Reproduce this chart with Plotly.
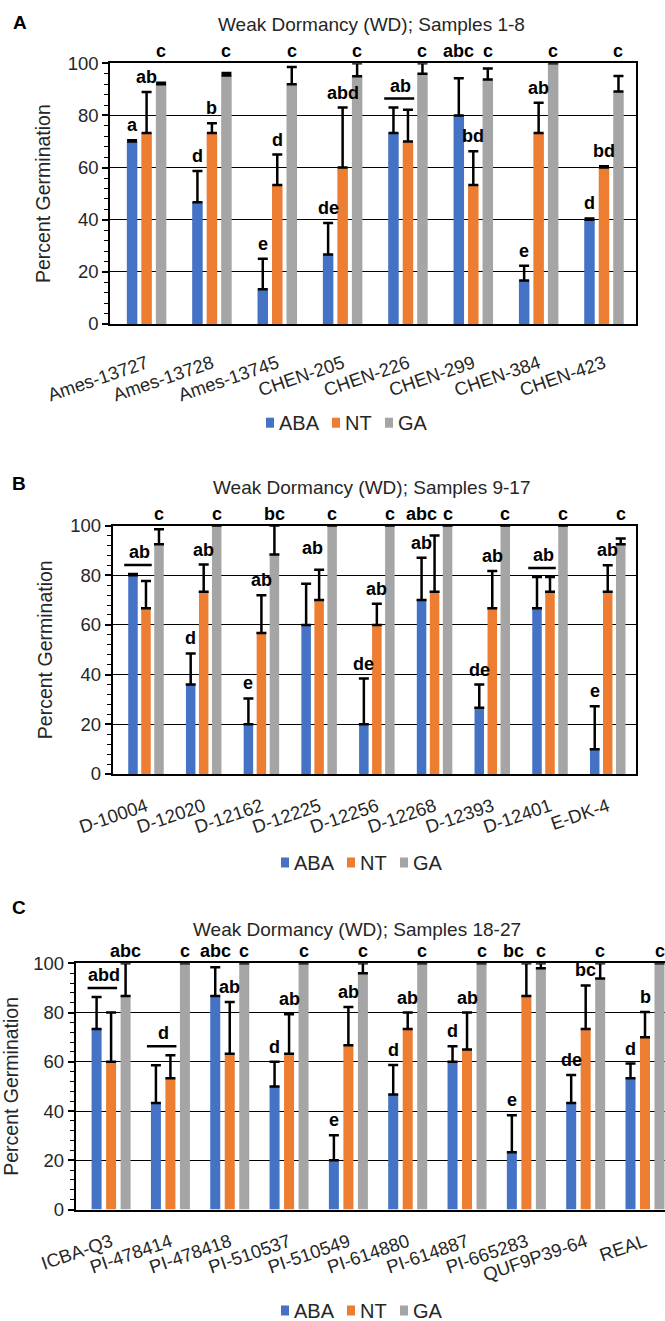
import plotly.graph_objects as go

W, H = 665, 1321
FONT = "Liberation Sans, Arial, Helvetica, sans-serif"

series_names = ["ABA", "NT", "GA"]
series_colors = ["#4472C4", "#ED7D31", "#A5A5A5"]
y_title = "Percent Germination"
panel_tags = ["A", "B", "C"]
titles = ["Weak Dormancy (WD); Samples 1-8",
          "Weak Dormancy (WD); Samples 9-17",
          "Weak Dormancy (WD); Samples 18-27"]

# ---------------- Panel A ----------------
cats_a = ["Ames-13727", "Ames-13728", "Ames-13745", "CHEN-205", "CHEN-226",
          "CHEN-299", "CHEN-384", "CHEN-423"]
aba_a = [70, 46.7, 13.3, 26.7, 73.3, 80, 16.7, 40]
aba_a_err = [0.5, 12, 11.7, 12, 9.7, 14.3, 5.6, 0.5]
nt_a = [73.3, 73.3, 53.3, 60, 70, 53.3, 73.3, 60]
nt_a_err = [15.7, 3.7, 11.7, 23, 12.2, 13, 11.6, 0.5]
ga_a = [92, 95.3, 92, 95, 96, 93.8, 100, 89.2]
ga_a_err = [0.5, 1, 6.6, 5, 4, 4.2, 0, 5.9]
let_aba_a = ["a", "d", "e", "de", "", "abc", "e", "d"]
let_nt_a = ["ab", "b", "d", "abd", "", "bd", "ab", "bd"]
let_ga_a = ["c", "c", "c", "c", "c", "c", "c", "c"]
let_pair_a = ["", "", "", "", "ab", "", "", ""]
line_pair_a = [False, False, False, False, True, False, False, False]

# ---------------- Panel B ----------------
cats_b = ["D-10004", "D-12020", "D-12162", "D-12225", "D-12256", "D-12268",
          "D-12393", "D-12401", "E-DK-4"]
aba_b = [80, 36, 20, 60, 20, 70, 26.7, 66.7, 10]
aba_b_err = [0.5, 12.5, 10.4, 16.6, 18.4, 17, 9.3, 12.6, 17.3]
nt_b = [66.7, 73.3, 56.7, 70, 60, 73.3, 66.7, 73.3, 73.3]
nt_b_err = [11, 11, 15.2, 12.2, 8.5, 22.7, 15, 6, 10.7]
ga_b = [92.5, 100, 88.3, 100, 100, 100, 100, 100, 92.5]
ga_b_err = [6, 0, 11.7, 0, 0, 0, 0, 0, 2.3]
let_aba_b = ["", "d", "e", "", "de", "ab", "de", "", "e"]
let_nt_b = ["", "ab", "ab", "", "ab", "abc", "ab", "", "ab"]
let_ga_b = ["c", "c", "bc", "c", "c", "c", "c", "c", "c"]
let_pair_b = ["ab", "", "", "ab", "", "", "", "ab", ""]
line_pair_b = [True, False, False, False, False, False, False, True, False]

# ---------------- Panel C ----------------
cats_c = ["ICBA-Q3", "PI-478414", "PI-478418", "PI-510537", "PI-510549",
          "PI-614880", "PI-614887", "PI-665283", "QUF9P39-64", "REAL"]
aba_c = [73.3, 43.3, 86.7, 50, 20, 46.7, 60, 23.3, 43.3, 53.3]
aba_c_err = [13, 15.3, 11.7, 10, 10.2, 12, 6.3, 15, 11.3, 6]
nt_c = [60, 53.3, 63.3, 63.3, 66.7, 73.3, 65, 86.7, 73.3, 70]
nt_c_err = [20, 9.4, 21, 16, 15.6, 6.7, 15, 13.3, 17.7, 10.2]
ga_c = [86.7, 100, 100, 100, 96, 100, 100, 98, 93.8, 100]
ga_c_err = [13.3, 0, 0, 0, 4, 0, 0, 2, 6.2, 0]
let_aba_c = ["", "", "abc", "d", "e", "d", "d", "e", "de", "d"]
let_nt_c = ["", "", "ab", "ab", "ab", "ab", "ab", "bc", "bc", "b"]
let_ga_c = ["abc", "c", "c", "c", "c", "c", "c", "c", "c", "c"]
let_pair_c = ["abd", "d", "", "", "", "", "", "", "", ""]
line_pair_c = [True, True, False, False, False, False, False, False, False, False]

panels = [
    dict(cats=cats_a, vals=[aba_a, nt_a, ga_a], errs=[aba_a_err, nt_a_err, ga_a_err],
         lets=[let_aba_a, let_nt_a, let_ga_a], pair=let_pair_a, pline=line_pair_a),
    dict(cats=cats_b, vals=[aba_b, nt_b, ga_b], errs=[aba_b_err, nt_b_err, ga_b_err],
         lets=[let_aba_b, let_nt_b, let_ga_b], pair=let_pair_b, pline=line_pair_b),
    dict(cats=cats_c, vals=[aba_c, nt_c, ga_c], errs=[aba_c_err, nt_c_err, ga_c_err],
         lets=[let_aba_c, let_nt_c, let_ga_c], pair=let_pair_c, pline=line_pair_c),
]

# layout geometry in pixels
geo = [
    dict(x0=110, x1=636, ytop=63.3, ybot=324, xr=[-0.56, 7.49], bar=10.5, pitch=14.5,
         title=(371, 25), tag=(20, 22), leg=(266, 422.7), standoff=20),
    dict(x0=112.5, x1=636, ytop=525.5, ybot=774, xr=[-0.58, 8.49], bar=9.5, pitch=13,
         title=(371, 487), tag=(19, 483), leg=(281, 862.5), standoff=13),
    dict(x0=75.5, x1=665, ytop=963.3, ybot=1209.5, xr=[-0.6, 9.337], bar=10, pitch=14.5,
         title=(357, 929), tag=(19, 907), leg=(281, 1310.5), standoff=13),
]

fig = go.Figure()
annotations = []
shapes = []
layout = {}

def px(x):
    return x / W

def py(y):
    return 1 - y / H

for p in range(3):
    P = panels[p]
    g = geo[p]
    suf = "" if p == 0 else str(p + 1)
    xa, ya = "x" + suf, "y" + suf
    n = len(P["cats"])
    ppc = (g["x1"] - g["x0"]) / (g["xr"][1] - g["xr"][0])
    bw = g["bar"] / ppc
    pitch = g["pitch"] / ppc
    for k in range(3):
        fig.add_trace(go.Bar(
            x=P["cats"], y=P["vals"][k], name=series_names[k],
            marker=dict(color=series_colors[k], line=dict(width=0)),
            width=bw, offset=(k - 1) * pitch - bw / 2,
            error_y=dict(type="data", symmetric=False, array=P["errs"][k],
                         arrayminus=[0] * n, color="black", thickness=2.5, width=5),
            xaxis=xa, yaxis=ya, cliponaxis=False, showlegend=False,
            legendgroup=series_names[k]))

    tickfont = dict(family=FONT, size=18.5, color="#262626")
    layout["xaxis" + suf] = dict(
        domain=[px(g["x0"]), px(g["x1"])], range=g["xr"], anchor=ya, type="category",
        showline=True, linecolor="black", linewidth=1.5, mirror=True, ticks="",
        tickangle=-19, tickfont=tickfont, showgrid=False, fixedrange=True,
        automargin=False, ticklabelstandoff=g["standoff"])
    layout["yaxis" + suf] = dict(
        domain=[py(g["ybot"]), py(g["ytop"])], range=[0, 100], anchor=xa,
        showline=True, linecolor="black", linewidth=1.5, mirror=True,
        ticks="outside", ticklen=6, tickwidth=1.5, tickcolor="black", dtick=20, tick0=0,
        minor=dict(dtick=4, tick0=0, ticks="outside", ticklen=4, tickwidth=1.2,
                   tickcolor="black", showgrid=False),
        showgrid=True, gridcolor="black", gridwidth=1.3, zeroline=False,
        tickfont=tickfont, fixedrange=True, automargin=False,
        title=dict(text=y_title, font=dict(family=FONT, size=19.5, color="#262626"),
                   standoff=12))
    # overlay axis giving the inside half of the crossing ticks
    sufo = str(p + 4)
    layout["yaxis" + sufo] = dict(
        overlaying=ya, anchor=xa, range=[0, 100], side="left", showline=False,
        showgrid=False, zeroline=False, showticklabels=False, automargin=False,
        ticks="inside", ticklen=6, tickwidth=1.5, tickcolor="black", dtick=20, tick0=0,
        minor=dict(dtick=4, tick0=0, ticks="inside", ticklen=4, tickwidth=1.2,
                   tickcolor="black", showgrid=False), fixedrange=True)

    # significance letters
    tops = [[P["vals"][k][i] + P["errs"][k][i] for i in range(n)] for k in range(3)]
    for i in range(n):
        on_top = []
        for k in range(3):
            on_top.append(bool(P["lets"][k][i]) and (k == 2 or tops[k][i] > 94))
        for k in range(3):
            t = P["lets"][k][i]
            if not t:
                continue
            xs = 0
            if k == 1 and on_top[1] and on_top[2]:
                xs = -13
            annotations.append(dict(
                x=i + (k - 1) * pitch, y=100 if on_top[k] else tops[k][i],
                xref=xa, yref=ya, text="<b>%s</b>" % t, showarrow=False,
                xanchor="center", yanchor="bottom", yshift=0 if on_top[k] else 3,
                xshift=xs, font=dict(family=FONT, size=18, color="black")))
        if P["pair"][i]:
            mt = max(tops[0][i], tops[1][i])
            cx = i - pitch / 2
            annotations.append(dict(
                x=cx, y=mt, xref=xa, yref=ya, text="<b>%s</b>" % P["pair"][i],
                showarrow=False, xanchor="center", yanchor="bottom", yshift=10,
                font=dict(family=FONT, size=18, color="black")))
            if P["pline"][i]:
                shapes.append(dict(
                    type="line", xref=xa, yref=ya,
                    x0=i - pitch - bw / 2 - 4 / ppc, x1=i + bw / 2 + 1 / ppc,
                    ysizemode="pixel", yanchor=mt, y0=9, y1=9,
                    line=dict(color="black", width=2.5)))

    # title and panel tag
    annotations.append(dict(x=px(g["title"][0]), y=py(g["title"][1]), xref="paper",
                            yref="paper", text=titles[p], showarrow=False,
                            xanchor="center", yanchor="middle",
                            font=dict(family=FONT, size=19, color="#262626")))
    annotations.append(dict(x=px(g["tag"][0]), y=py(g["tag"][1]), xref="paper",
                            yref="paper", text="<b>%s</b>" % panel_tags[p],
                            showarrow=False, xanchor="center", yanchor="middle",
                            font=dict(family=FONT, size=19, color="black")))
    # legend (drawn beneath each panel)
    lx, ly = g["leg"]
    offs = [0, 66, 119]
    for k in range(3):
        sx = lx + offs[k]
        shapes.append(dict(type="rect", xref="paper", yref="paper",
                           x0=px(sx), x1=px(sx + 8), y0=py(ly + 5), y1=py(ly - 5),
                           fillcolor=series_colors[k], line=dict(width=0)))
        annotations.append(dict(x=px(sx + 11), y=py(ly), xref="paper", yref="paper",
                                text=series_names[k], showarrow=False, xanchor="left",
                                yanchor="middle",
                                font=dict(family=FONT, size=20, color="#262626")))

fig.update_layout(
    template="none",
    width=W, height=H, margin=dict(l=0, r=0, t=0, b=0, autoexpand=False),
    paper_bgcolor="white", plot_bgcolor="white", barmode="overlay",
    showlegend=False, font=dict(family=FONT, color="#262626"),
    annotations=annotations, shapes=shapes, **layout)

fig.write_html("out.html")
